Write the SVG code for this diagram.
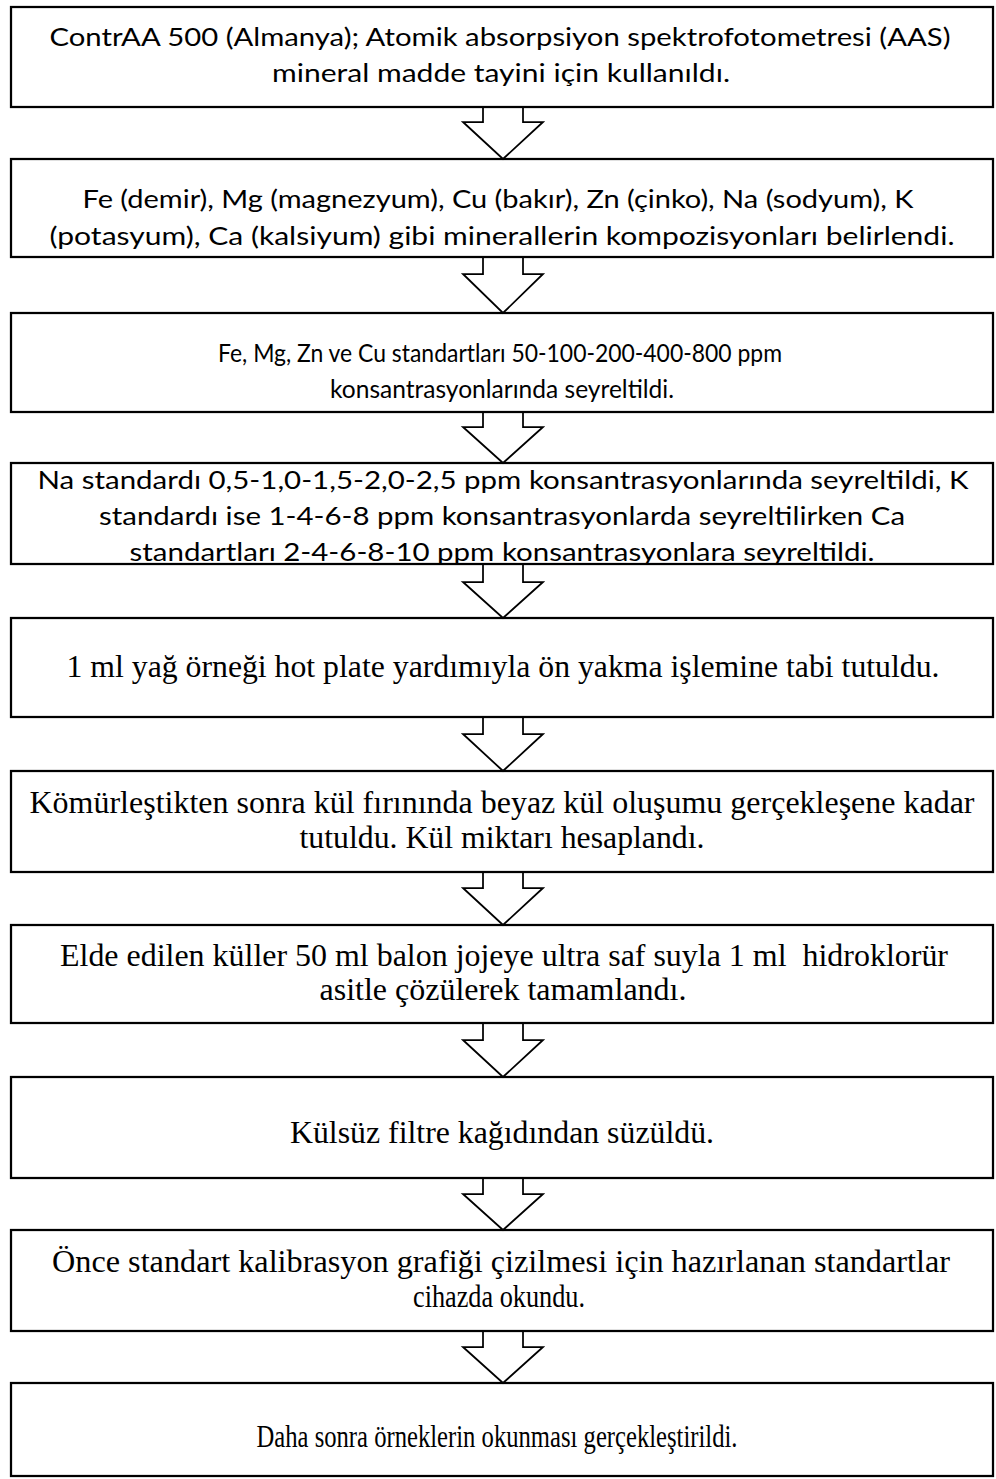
<svg xmlns="http://www.w3.org/2000/svg" width="996" height="1479" viewBox="0 0 996 1479">
  <style>
    .box { fill: none; stroke: #000; stroke-width: 2.25; }
    .arrow { fill: #fff; stroke: #000; stroke-width: 1.75; stroke-linejoin: miter; }
    .sans { font-family: Lato, "Open Sans", "Liberation Sans", sans-serif; font-size: 25px; fill: #000; text-anchor: middle; }
    .serif { font-family: "Liberation Serif", "DejaVu Serif", serif; font-size: 32px; fill: #000; text-anchor: middle; }
  </style>
  <rect width="996" height="1479" fill="#fff"/>

  <!-- block arrows between consecutive steps -->
  <g id="connectors">
    <path class="arrow" d="M483,107 V122 H463 L503,159 L543,122 H523 V107"/>
    <path class="arrow" d="M483,257 V274 H463 L503,313 L543,274 H523 V257"/>
    <path class="arrow" d="M483,412 V427 H463 L503,463 L543,427 H523 V412"/>
    <path class="arrow" d="M483,564 V582 H463 L503,618 L543,582 H523 V564"/>
    <path class="arrow" d="M483,717 V734 H463 L503,771 L543,734 H523 V717"/>
    <path class="arrow" d="M483,872 V888 H463 L503,925 L543,888 H523 V872"/>
    <path class="arrow" d="M483,1023 V1040 H463 L503,1077 L543,1040 H523 V1023"/>
    <path class="arrow" d="M483,1178 V1194 H463 L503,1230 L543,1194 H523 V1178"/>
    <path class="arrow" d="M483,1331 V1347 H463 L503,1383 L543,1347 H523 V1331"/>
  </g>

  <g id="step1">
    <rect class="box" x="11" y="7" width="982" height="100"/>
    <text class="sans" x="500" y="46" textLength="901" lengthAdjust="spacingAndGlyphs">ContrAA 500 (Almanya); Atomik absorpsiyon spektrofotometresi (AAS)</text>
    <text class="sans" x="501" y="82" textLength="458" lengthAdjust="spacingAndGlyphs">mineral madde tayini için kullanıldı.</text>
  </g>

  <g id="step2">
    <rect class="box" x="11" y="159" width="982" height="98"/>
    <text class="sans" x="498" y="208" textLength="831" lengthAdjust="spacingAndGlyphs">Fe (demir), Mg (magnezyum), Cu (bakır), Zn (çinko), Na (sodyum), K</text>
    <text class="sans" x="502" y="245" textLength="905" lengthAdjust="spacingAndGlyphs">(potasyum), Ca (kalsiyum) gibi minerallerin kompozisyonları belirlendi.</text>
  </g>

  <g id="step3">
    <rect class="box" x="11" y="313" width="982" height="99"/>
    <text class="sans" x="500" y="362" textLength="564" lengthAdjust="spacingAndGlyphs">Fe, Mg, Zn ve Cu standartları 50-100-200-400-800 ppm</text>
    <text class="sans" x="502" y="398" textLength="344" lengthAdjust="spacingAndGlyphs">konsantrasyonlarında seyreltildi.</text>
  </g>

  <g id="step4">
    <rect class="box" x="11" y="463" width="982" height="101"/>
    <text class="sans" x="503" y="489" textLength="931" lengthAdjust="spacingAndGlyphs">Na standardı 0,5-1,0-1,5-2,0-2,5 ppm konsantrasyonlarında seyreltildi, K</text>
    <text class="sans" x="502" y="525" textLength="806" lengthAdjust="spacingAndGlyphs">standardı ise 1-4-6-8 ppm konsantrasyonlarda seyreltilirken Ca</text>
    <text class="sans" x="502" y="561" textLength="745" lengthAdjust="spacingAndGlyphs">standartları 2-4-6-8-10 ppm konsantrasyonlara seyreltildi.</text>
  </g>

  <g id="step5">
    <rect class="box" x="11" y="618" width="982" height="99"/>
    <text class="serif" x="503" y="677" textLength="873" lengthAdjust="spacingAndGlyphs">1 ml yağ örneği hot plate yardımıyla ön yakma işlemine tabi tutuldu.</text>
  </g>

  <g id="step6">
    <rect class="box" x="11" y="771" width="982" height="101"/>
    <text class="serif" x="502" y="813" textLength="945" lengthAdjust="spacingAndGlyphs">Kömürleştikten sonra kül fırınında beyaz kül oluşumu gerçekleşene kadar</text>
    <text class="serif" x="502" y="848" textLength="405" lengthAdjust="spacingAndGlyphs">tutuldu. Kül miktarı hesaplandı.</text>
  </g>

  <g id="step7">
    <rect class="box" x="11" y="925" width="982" height="98"/>
    <text class="serif" x="504" y="966" textLength="888" lengthAdjust="spacingAndGlyphs" xml:space="preserve">Elde edilen küller 50 ml balon jojeye ultra saf suyla 1 ml  hidroklorür</text>
    <text class="serif" x="503" y="1000" textLength="367" lengthAdjust="spacingAndGlyphs">asitle çözülerek tamamlandı.</text>
  </g>

  <g id="step8">
    <rect class="box" x="11" y="1077" width="982" height="101"/>
    <text class="serif" x="502" y="1143" textLength="424" lengthAdjust="spacingAndGlyphs">Külsüz filtre kağıdından süzüldü.</text>
  </g>

  <g id="step9">
    <rect class="box" x="11" y="1230" width="982" height="101"/>
    <text class="serif" x="501" y="1272" textLength="898" lengthAdjust="spacingAndGlyphs">Önce standart kalibrasyon grafiği çizilmesi için hazırlanan standartlar</text>
    <text class="serif" x="499" y="1307" textLength="172" lengthAdjust="spacingAndGlyphs">cihazda okundu.</text>
  </g>

  <g id="step10">
    <rect class="box" x="11" y="1383" width="982" height="93"/>
    <text class="serif" x="497" y="1447" textLength="481" lengthAdjust="spacingAndGlyphs">Daha sonra örneklerin okunması gerçekleştirildi.</text>
  </g>
</svg>
